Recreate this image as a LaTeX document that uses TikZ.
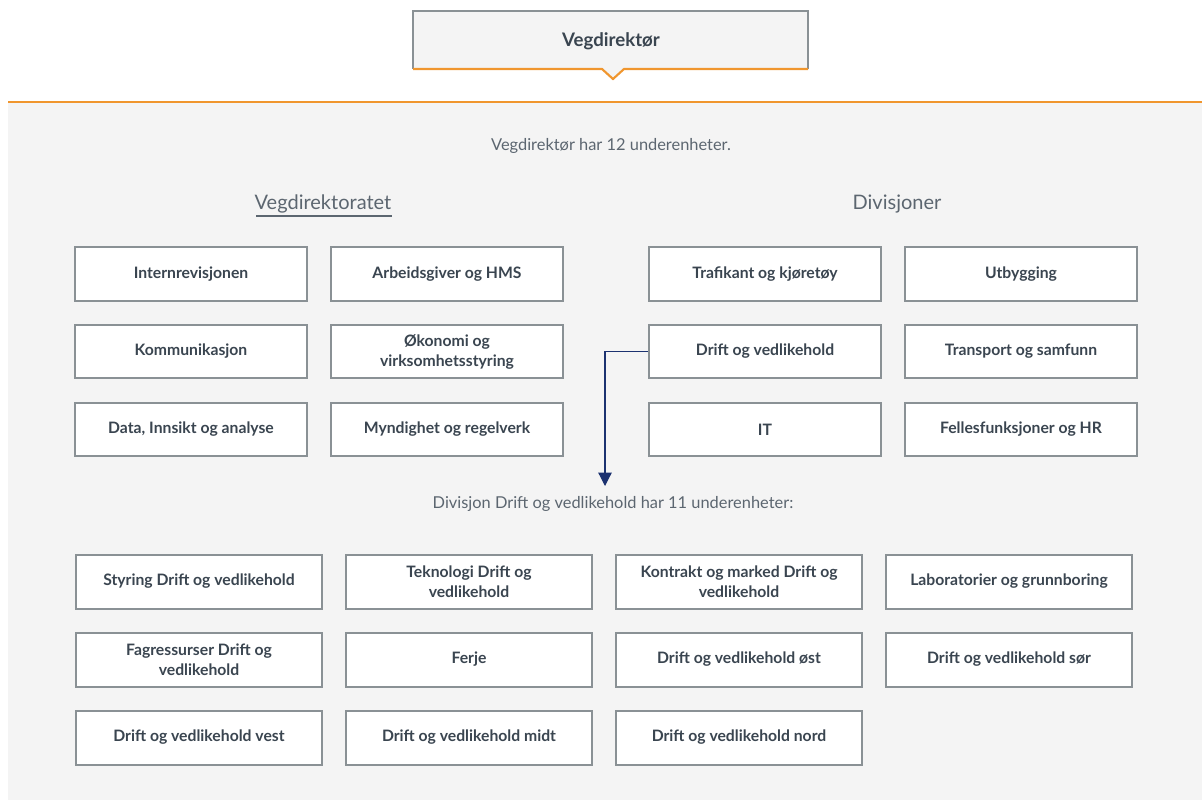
\documentclass[tikz,border=0pt]{standalone}
\usepackage{fontspec}
\setmainfont{Lato}
\usetikzlibrary{positioning,arrows.meta}

\definecolor{panel}{HTML}{F4F4F4}
\definecolor{rim}{HTML}{8A9195}
\definecolor{ink}{HTML}{3A4550}
\definecolor{softink}{HTML}{5C6670}
\definecolor{accent}{HTML}{F0962E}
\definecolor{navy}{HTML}{1C3270}

\begin{document}
\begin{tikzpicture}[x=0.75pt,y=-0.75pt,
        unit/.style={draw=rim, line width=1.5pt, fill=white, text=ink,
            font=\fontsize{11.8}{15}\selectfont\bfseries, align=center,
            minimum width=174pt, minimum height=40pt, inner sep=2pt},
        subunit/.style={unit, minimum width=184.5pt, minimum height=40.5pt},
        heading/.style={text=softink, font=\fontsize{15}{18}\selectfont},
        caption/.style={text=softink, font=\fontsize{12.3}{15}\selectfont},
        link/.style={draw=navy, line width=0.9pt, -{Triangle[length=10pt,width=10pt]}}]

        \useasboundingbox (0,0) rectangle (1202,800);

        % panel
        \fill[panel] (8,102) rectangle (1202,800);
        \draw[accent, line width=1.6pt] (8,102) -- (1202,102);

        % top box
        \fill[panel] (413,11) rectangle (808,69);
        \fill[panel] (602,69) -- (613,79) -- (624,69) -- cycle;
        \draw[rim, line width=1.5pt] (413,69) -- (413,11) -- (808,11) -- (808,69);
        \draw[accent, line width=1.6pt] (413,69) -- (602,69) -- (613,79) -- (624,69) -- (808,69);
        \node[text=ink, font=\fontsize{14}{16}\selectfont\bfseries] (top) at (611,41) {Vegdirektør};

        \node[caption] (sub1) at (611,146) {Vegdirektør har 12 underenheter.};

        % headings
        \node[heading] (vd) at (323,204) {Vegdirektoratet};
        \draw[softink, line width=0.8pt] (256,216) -- (392,216);
        \node[heading] (div) at (897,204) {Divisjoner};

        % Vegdirektoratet
        \node[unit] (intern) at (191,274) {Internrevisjonen};
        \node[unit] (hms) at (447,274) {Arbeidsgiver og HMS};
        \node[unit] (komm) at (191,351.5) {Kommunikasjon};
        \node[unit] (okon) at (447,351.5) {Økonomi og\\virksomhetsstyring};
        \node[unit] (data) at (191,429.5) {Data, Innsikt og analyse};
        \node[unit] (mynd) at (447,429.5) {Myndighet og regelverk};

        % Divisjoner
        \node[unit] (traf) at (765,274) {Trafikant og kjøretøy};
        \node[unit] (utb) at (1021,274) {Utbygging};
        \node[unit] (drift) at (765,351.5) {Drift og vedlikehold};
        \node[unit] (trans) at (1021,351.5) {Transport og samfunn};
        \node[unit] (it) at (765,429.5) {IT};
        \node[unit] (fell) at (1021,429.5) {Fellesfunksjoner og HR};

        \coordinate (arrowend) at (605,486);
        \draw[link] (drift.west) -| (arrowend);

        \node[caption] (sub2) at (613,504) {Divisjon Drift og vedlikehold har 11 underenheter:};

        % Drift og vedlikehold
        \node[subunit] (styr) at (199,581.5) {Styring Drift og vedlikehold};
        \node[subunit] (tek) at (469,581.5) {Teknologi Drift og\\vedlikehold};
        \node[subunit] (kontr) at (739,581.5) {Kontrakt og marked Drift og\\vedlikehold};
        \node[subunit] (lab) at (1009,581.5) {Laboratorier og grunnboring};
        \node[subunit] (fag) at (199,659.5) {Fagressurser Drift og\\vedlikehold};
        \node[subunit] (ferje) at (469,659.5) {Ferje};
        \node[subunit] (ost) at (739,659.5) {Drift og vedlikehold øst};
        \node[subunit] (sor) at (1009,659.5) {Drift og vedlikehold sør};
        \node[subunit] (vest) at (199,737.5) {Drift og vedlikehold vest};
        \node[subunit] (midt) at (469,737.5) {Drift og vedlikehold midt};
        \node[subunit] (nord) at (739,737.5) {Drift og vedlikehold nord};
    \end{tikzpicture}
\end{document}
